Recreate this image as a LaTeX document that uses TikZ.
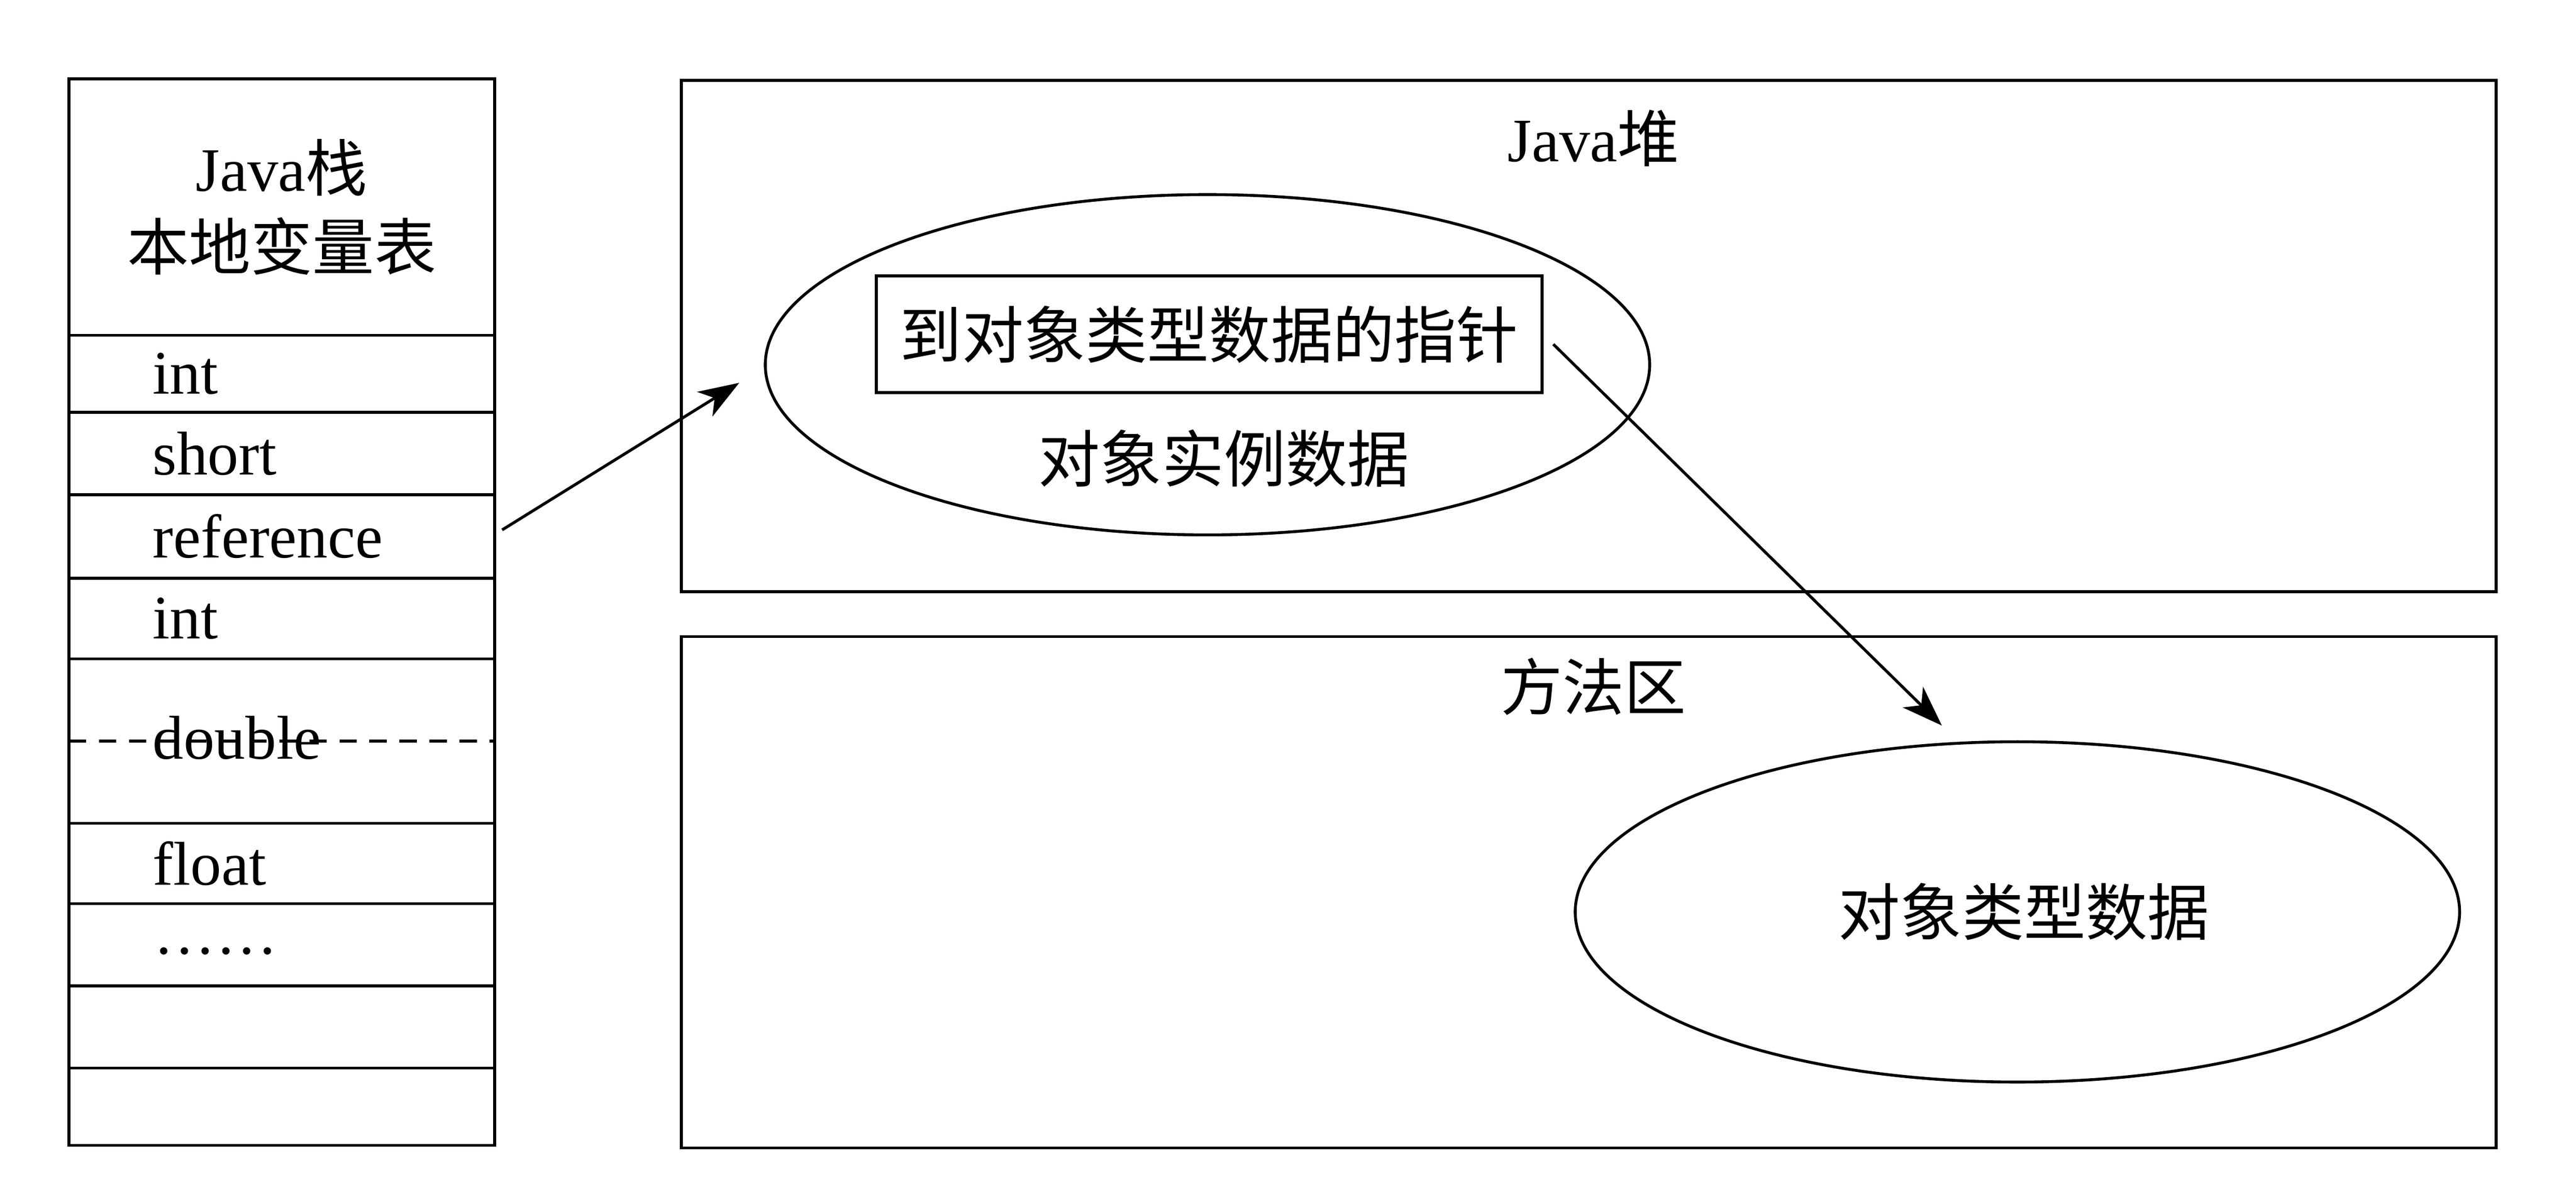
\documentclass[tikz,border=0pt]{standalone}
\usepackage{fontspec}
\setmainfont{Liberation Serif}
\newfontfamily\cjk{Noto Sans CJK SC}
\usetikzlibrary{shapes.geometric,arrows.meta}

\begin{document}
\begin{tikzpicture}[x=0.01cm,y=-0.01cm,
  every node/.style={font=\fontsize{10.7pt}{13.6pt}\selectfont},
  lw/.style={line width=0.5pt},
  cell/.style={draw, lw, outer sep=0pt, minimum width=2.59cm, text width=1.57cm, inner xsep=0.51cm, inner ysep=0pt, align=left, anchor=north west},
  headcell/.style={draw, lw, outer sep=0pt, minimum width=2.59cm, minimum height=1.56cm, inner sep=0pt, align=center},
  area/.style={draw, lw, minimum width=11.04cm, minimum height=3.11cm, inner sep=0pt},
  ell/.style={ellipse, draw, lw, minimum width=5.38cm, minimum height=2.07cm, inner sep=0pt},
  ptrbox/.style={draw, lw, minimum width=4.05cm, minimum height=0.71cm, inner sep=0pt},
  arr/.style={lw, -{Stealth[length=7pt,width=5pt,inset=2pt]}}
]
\useasboundingbox (0,0) rectangle (1568,729.7);

% Java stack
\node[headcell] (head) at (171.5,126) {Java{\cjk 栈}\\{\cjk 本地变量表}};
\node[cell, minimum height=0.47cm] (r1) at (42,204) {int};
\node[cell, minimum height=0.50cm] (r2) at (42,251) {short};
\node[cell, minimum height=0.51cm] (r3) at (42,301) {reference};
\node[cell, minimum height=0.49cm] (r4) at (42,352) {int};
\node[cell, minimum height=1.00cm] (r5) at (42,401) {};
\draw[lw, dash pattern=on 3pt off 2.2pt] (r5.west) -- (r5.east);
\node[cell, minimum height=1.00cm, draw=none] (r5t) at (42,399) {double};
\node[cell, minimum height=0.49cm] (r6) at (42,501) {float};
\node[cell, minimum height=0.50cm] (r7) at (42,550) {};
\node[anchor=west, inner sep=0pt] (dots) at (93,579) {……};
\node[cell, minimum height=0.50cm] (r8) at (42,600) {};
\node[cell, minimum height=0.47cm] (r9) at (42,650) {};

% Java heap
\node[area] (heap) at (967,204.5) {};
\node (heapt) at (970,84) {Java{\cjk 堆}};
\node[ell] (ell1) at (735,222) {};
\node[ptrbox] (ptr) at (736,203.5) {\cjk 到对象类型数据的指针};
\node (inst) at (745,279) {\cjk 对象实例数据};

% Method area
\node[area] (meth) at (967,543) {};
\node (metht) at (970,418) {\cjk 方法区};
\node[ell] (ell2) at (1228,555) {};
\node (typ) at (1232,555) {\cjk 对象类型数据};

% connectors
\coordinate (s1) at ([shift={(4.5,-4)}]r3.east);
\coordinate (e1) at ([shift={(-15,11)}]ell1.west);
\draw[arr] (s1) -- (e1);
\coordinate (s2) at ([shift={(6,6)}]ptr.east);
\coordinate (e2) at ([shift={(-46,-9)}]ell2.north);
\draw[arr] (s2) -- (e2);
\end{tikzpicture}
\end{document}
